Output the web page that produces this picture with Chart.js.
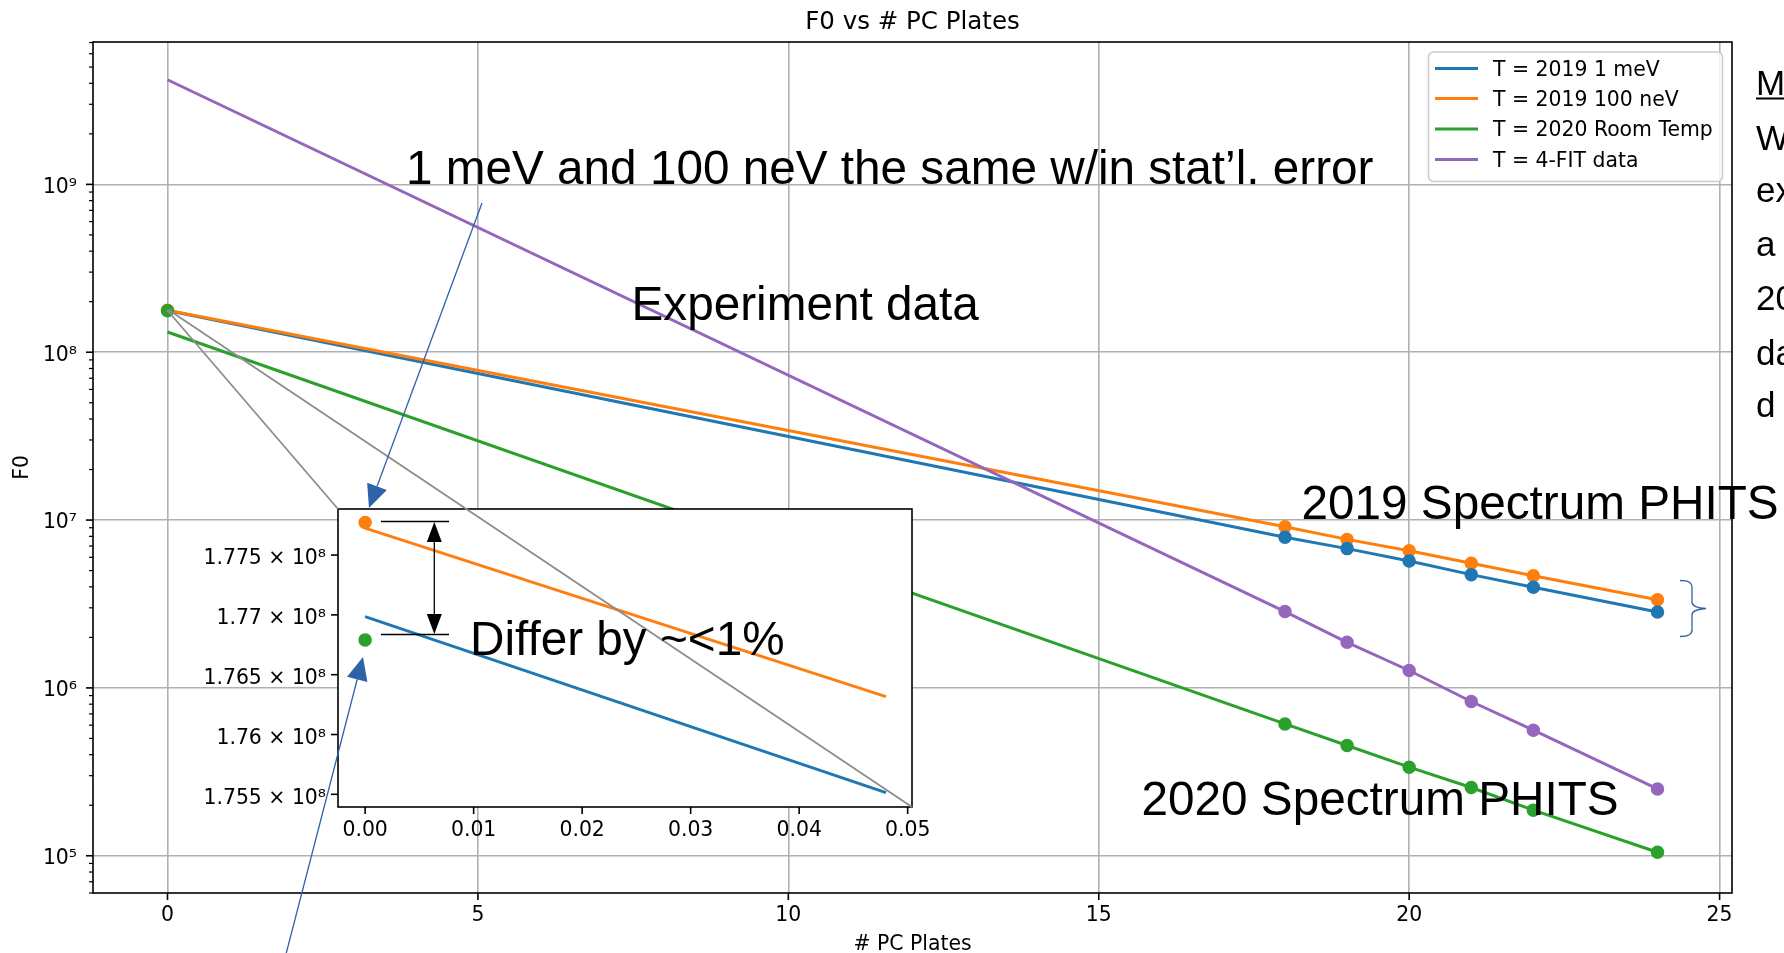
<!DOCTYPE html>
<html>
<head>
<meta charset="utf-8">
<script src="https://cdn.jsdelivr.net/npm/chart.js@4.4.1/dist/chart.umd.min.js"></script>
<style>
html, body { margin: 0; padding: 0; background: #fff; overflow: hidden; }
#wrap { position: relative; width: 1784px; height: 953px; }
canvas { position: absolute; }
#main { left: 0; top: 0; }
#inset { left: 170px; top: 499px; }
#overlay { left: 0; top: 0; pointer-events: none; }
</style>
</head>
<body>
<div id="wrap">
  <canvas id="main" width="1784" height="953"></canvas>
  <canvas id="inset" width="790" height="360"></canvas>
  <canvas id="overlay" width="1784" height="953"></canvas>
</div>
<script>
// values
const plates    = [0, 18, 19, 20, 21, 22, 24];
const f0_1meV   = [1.770e8, 7.91e6, 6.76e6, 5.70e6, 4.73e6, 3.98e6, 2.83e6];
const f0_100neV = [1.778e8, 9.12e6, 7.67e6, 6.57e6, 5.53e6, 4.66e6, 3.35e6];
const f0_room   = [1.32e8, 6.10e5, 4.54e5, 3.37e5, 2.55e5, 1.87e5, 1.05e5];
const f0_fit    = [4.2e9, 2.85e6, 1.87e6, 1.27e6, 8.3e5, 5.6e5, 2.5e5];
const roomAtZero = [1.768e8];

const seriesLabels = ['T = 2019 1 meV', 'T = 2019 100 neV', 'T = 2020 Room Temp', 'T = 4-FIT data'];
const seriesColors = ['#1f77b4', '#ff7f0e', '#2ca02c', '#9467bd'];

const xTicks = [0, 5, 10, 15, 20, 25];
const xTickLabels = ['0', '5', '10', '15', '20', '25'];
const yTicks = [1e5, 1e6, 1e7, 1e8, 1e9];
const yTickLabels = ['10⁵', '10⁶', '10⁷', '10⁸', '10⁹'];

// inset: zoom on the 0 plate values
const insetX      = [0, 0.048];
const inset1meV   = [1.76986e8, 1.75514e8];
const inset100neV = [1.77725e8, 1.76317e8];
const insetDot100neV = [1.77772e8];
const insetDotRoom   = [1.76791e8];
const insetXTicks = [0, 0.01, 0.02, 0.03, 0.04, 0.05];
const insetXTickLabels = ['0.00', '0.01', '0.02', '0.03', '0.04', '0.05'];
const insetYTicks = [1.755e8, 1.76e8, 1.765e8, 1.77e8, 1.775e8];
const insetYTickLabels = ['1.755 × 10⁸', '1.76 × 10⁸', '1.765 × 10⁸', '1.77 × 10⁸', '1.775 × 10⁸'];

const GRID = '#b0b0b0';
const TICKFONT = {family: 'DejaVu Sans', size: 20.4};
const Y_MIN = 6.0e4, Y_MAX = 7.05e9;

// log minor ticks
const yMinorTicks = [];
for (let e = 4; e <= 9; e++) {
    for (let m = 2; m <= 9; m++) {
        const v = m * Math.pow(10, e);
        if (v >= Y_MIN && v <= Y_MAX) yMinorTicks.push(v);
    }
}

function pts(xs, ys){
    return ys.map((y, i) => ({x: xs[i], y: y}));
}
function lineSet(xs, ys, color){
    return {data: pts(xs, ys), showLine: true, borderColor: color, borderWidth: 3,
            pointRadius: 0, pointHoverRadius: 0, fill: false, tension: 0};
}
function markSet(xs, ys, color){
    return {data: pts(xs, ys), showLine: false, pointRadius: 6, pointHoverRadius: 6,
            pointBorderWidth: 1.5, pointBackgroundColor: color, pointBorderColor: color};
}
function seg(c, x1, y1, x2, y2, w){
    c.lineWidth = w;
    c.beginPath(); c.moveTo(x1, y1); c.lineTo(x2, y2); c.stroke();
}
// keep the plot box where the layout padding puts it
function fixBox(s, size){
    if (s.isHorizontal()) s.height = size; else s.width = size;
    s.paddingTop = 0; s.paddingBottom = 0; s.paddingLeft = 0; s.paddingRight = 0;
}

// dataset 0 is painted last (on top)
const mainSets = [
    markSet([0], roomAtZero, seriesColors[2]),
    markSet(plates.slice(1), f0_fit.slice(1), seriesColors[3]),
    markSet(plates.slice(1), f0_room.slice(1), seriesColors[2]),
    markSet(plates.slice(1), f0_1meV.slice(1), seriesColors[0]),
    markSet(plates, f0_100neV, seriesColors[1]),
    lineSet(plates, f0_fit, seriesColors[3]),
    lineSet(plates, f0_room, seriesColors[2]),
    lineSet(plates, f0_100neV, seriesColors[1]),
    lineSet(plates, f0_1meV, seriesColors[0])
];

const mainDecor = {
    id: 'mainDecor',
    beforeDraw(chart){
        const c = chart.ctx;
        c.save(); c.fillStyle = '#fff'; c.fillRect(0, 0, chart.width, chart.height); c.restore();
    },
    afterDraw(chart){
        const c = chart.ctx, a = chart.chartArea, xs = chart.scales.x, ys = chart.scales.y;
        c.save();
        c.strokeStyle = '#000';
        xs.ticks.forEach(t => {
            const p = xs.getPixelForValue(t.value);
            seg(c, p, a.bottom, p, a.bottom + 7, 1.6);
        });
        ys.ticks.forEach(t => {
            const p = ys.getPixelForValue(t.value);
            const len = t.major ? 7 : 4;
            seg(c, a.left - len, p, a.left, p, t.major ? 1.6 : 1.2);
        });
        c.lineWidth = 1.6;
        c.strokeRect(a.left, a.top, a.right - a.left, a.bottom - a.top);

        // title and axis labels
        c.fillStyle = '#000';
        c.textAlign = 'center';
        c.textBaseline = 'alphabetic';
        c.font = '24.5px "DejaVu Sans"';
        c.fillText('F0 vs # PC Plates', (a.left + a.right) / 2, 29);
        c.font = '20.4px "DejaVu Sans"';
        c.fillText('# PC Plates', (a.left + a.right) / 2, 950);
        c.save();
        c.translate(28, (a.top + a.bottom) / 2);
        c.rotate(-Math.PI / 2);
        c.fillText('F0', 0, 0);
        c.restore();

        // legend
        const bx = 1428.5, by = 52, bw = 294, bh = 129.5, r = 5;
        c.beginPath();
        c.roundRect(bx, by, bw, bh, r);
        c.fillStyle = 'rgba(255,255,255,0.8)';
        c.fill();
        c.strokeStyle = '#cccccc'; c.lineWidth = 1.6; c.stroke();
        const rows = [68.5, 98.5, 129, 159.5];
        c.textAlign = 'left';
        seriesLabels.forEach((lab, i) => {
            c.strokeStyle = seriesColors[i];
            seg(c, 1435, rows[i], 1478, rows[i], 3);
            c.fillStyle = '#000';
            c.fillText(lab, 1493, rows[i] + 7.4);
        });
        c.restore();
    }
};

const mainChart = new Chart(document.getElementById('main'), {
    type: 'scatter',
    data: {datasets: mainSets},
    options: {
        responsive: false,
        animation: false,
        events: [],
        layout: {padding: {top: 42, right: 52, left: 0, bottom: 0}},
        plugins: {legend: {display: false}, tooltip: {enabled: false}},
        scales: {
            x: {
                type: 'linear', min: -1.2, max: 25.2, bounds: 'data',
                afterBuildTicks: s => { s.ticks = xTicks.map(v => ({value: v})); },
                afterFit: s => fixBox(s, 60),
                grid: {color: GRID, lineWidth: 1.6, drawTicks: false},
                border: {display: false},
                ticks: {font: TICKFONT, color: '#000', padding: 10, autoSkip: false, maxRotation: 0,
                        callback: (v, i) => xTickLabels[i]}
            },
            y: {
                type: 'logarithmic', min: Y_MIN, max: Y_MAX, bounds: 'data',
                afterBuildTicks: s => {
                    s.ticks = yTicks.map(v => ({value: v, major: true}))
                        .concat(yMinorTicks.map(v => ({value: v, major: false})));
                },
                afterFit: s => fixBox(s, 93),
                grid: {
                    color: ctx => (ctx.tick && ctx.tick.major) ? GRID : 'rgba(0,0,0,0)',
                    lineWidth: 1.6, drawTicks: false
                },
                border: {display: false},
                ticks: {font: TICKFONT, color: '#000', padding: 16, labelOffset: 3, autoSkip: false,
                        callback: v => { const k = yTicks.indexOf(v); return k >= 0 ? yTickLabels[k] : ''; }}
            }
        }
    },
    plugins: [mainDecor]
});

const insetDecor = {
    id: 'insetDecor',
    beforeDraw(chart){
        const c = chart.ctx, a = chart.chartArea;
        c.save(); c.fillStyle = '#fff';
        c.fillRect(a.left, a.top, a.right - a.left, a.bottom - a.top);
        c.restore();
    },
    afterDraw(chart){
        const c = chart.ctx, a = chart.chartArea, xs = chart.scales.x, ys = chart.scales.y;
        c.save();
        c.strokeStyle = '#000';
        xs.ticks.forEach(t => {
            const p = xs.getPixelForValue(t.value);
            seg(c, p, a.bottom, p, a.bottom + 7, 1.6);
        });
        ys.ticks.forEach(t => {
            const p = ys.getPixelForValue(t.value);
            seg(c, a.left - 7, p, a.left, p, 1.6);
        });
        c.lineWidth = 1.6;
        c.strokeRect(a.left, a.top, a.right - a.left, a.bottom - a.top);
        c.restore();
    }
};

const insetChart = new Chart(document.getElementById('inset'), {
    type: 'scatter',
    data: {datasets: [
        markSet([0], insetDotRoom, seriesColors[2]),
        markSet([0], insetDot100neV, seriesColors[1]),
        lineSet(insetX, inset100neV, seriesColors[1]),
        lineSet(insetX, inset1meV, seriesColors[0])
    ]},
    options: {
        responsive: false,
        animation: false,
        events: [],
        layout: {padding: {top: 10, right: 48, left: 0, bottom: 0}},
        plugins: {legend: {display: false}, tooltip: {enabled: false}},
        scales: {
            x: {
                type: 'linear', min: -0.0025, max: 0.0504, bounds: 'data',
                afterBuildTicks: s => { s.ticks = insetXTicks.map(v => ({value: v})); },
                afterFit: s => fixBox(s, 52),
                grid: {display: false, drawTicks: false},
                border: {display: false},
                ticks: {font: TICKFONT, color: '#000', padding: 11, autoSkip: false, maxRotation: 0,
                        callback: (v, i) => insetXTickLabels[i]}
            },
            y: {
                type: 'linear', min: 1.75394e8, max: 1.77885e8, bounds: 'data',
                afterBuildTicks: s => { s.ticks = insetYTicks.map(v => ({value: v})); },
                afterFit: s => fixBox(s, 168),
                grid: {display: false, drawTicks: false},
                border: {display: false},
                ticks: {font: TICKFONT, color: '#000', padding: 12, labelOffset: 4, autoSkip: false,
                        callback: (v, i) => insetYTickLabels[i]}
            }
        }
    },
    plugins: [insetDecor]
});

// slide annotations drawn over both charts
function arrow(c, x1, y1, x2, y2, color, lw, hl, hw){
    const ang = Math.atan2(y2 - y1, x2 - x1);
    const bx = x2 - hl * Math.cos(ang), by = y2 - hl * Math.sin(ang);
    c.strokeStyle = color;
    seg(c, x1, y1, bx, by, lw);
    c.fillStyle = color;
    c.beginPath();
    c.moveTo(x2, y2);
    c.lineTo(bx + hw / 2 * Math.sin(ang), by - hw / 2 * Math.cos(ang));
    c.lineTo(bx - hw / 2 * Math.sin(ang), by + hw / 2 * Math.cos(ang));
    c.closePath();
    c.fill();
}

function drawOverlay(){
    const c = document.getElementById('overlay').getContext('2d');
    const mx = mainChart.scales.x, my = mainChart.scales.y;
    const ix = insetChart.scales.x, iy = insetChart.scales.y, ia = insetChart.chartArea;
    const offX = 170, offY = 499;

    // inset connectors
    const rx0 = mx.getPixelForValue(ix.min), rx1 = mx.getPixelForValue(ix.max);
    const ry0 = my.getPixelForValue(iy.max), ry1 = my.getPixelForValue(iy.min);
    c.strokeStyle = '#8c8c8c';
    c.lineWidth = 1.6;
    c.strokeRect(rx0, ry0, rx1 - rx0, ry1 - ry0);
    seg(c, rx0, ry0, offX + ia.left, offY + ia.top, 1.8);
    seg(c, rx1, ry1, offX + ia.right, offY + ia.bottom, 1.8);

    // text boxes
    c.fillStyle = '#000';
    c.textAlign = 'left';
    c.textBaseline = 'alphabetic';
    c.font = '47.7px "Liberation Sans"';
    c.fillText('1 meV and 100 neV the same w/in stat’l. error', 406, 183.5);
    c.fillText('Experiment data', 631.5, 320);
    c.fillText('2019 Spectrum PHITS', 1301.5, 519);
    c.fillText('2020 Spectrum PHITS', 1141.5, 815);
    c.fillText('Differ by ~<1%', 470, 655);

    // text box running off the right edge of the slide
    const sideLines = ['Main point:', 'We would', 'expect', 'a factor', '2020 PHITS', 'data', 'd'];
    const sideBase = [95, 149.5, 202, 256, 310, 364.5, 417];
    c.font = '35px "Liberation Sans"';
    sideLines.forEach((t, i) => c.fillText(t, 1756, sideBase[i]));
    c.strokeStyle = '#000';
    seg(c, 1756, 98.5, 1784, 98.5, 2);

    // blue call-out arrows
    const blue = '#2f62a6';
    arrow(c, 482, 203, 369, 508, blue, 1.3, 23, 21);
    arrow(c, 285, 958, 363, 657, blue, 1.3, 23, 21);

    // black double arrow with limit lines
    c.strokeStyle = '#000';
    seg(c, 381, 521.5, 449, 521.5, 1.3);
    seg(c, 381, 634.5, 449, 634.5, 1.3);
    arrow(c, 434.3, 578, 434.3, 522, '#000', 1.3, 20, 15);
    arrow(c, 434.3, 578, 434.3, 634, '#000', 1.3, 20, 15);

    // brace
    c.strokeStyle = blue;
    c.lineWidth = 1.3;
    c.beginPath();
    c.moveTo(1680, 580.5);
    c.bezierCurveTo(1688, 580.5, 1692, 582, 1692, 588);
    c.lineTo(1692, 602);
    c.bezierCurveTo(1692, 606, 1698, 608, 1706, 608.5);
    c.bezierCurveTo(1698, 609, 1692, 611, 1692, 615);
    c.lineTo(1692, 630);
    c.bezierCurveTo(1692, 635, 1688, 636.5, 1680, 636.5);
    c.stroke();
}
drawOverlay();
</script>
</body>
</html>
